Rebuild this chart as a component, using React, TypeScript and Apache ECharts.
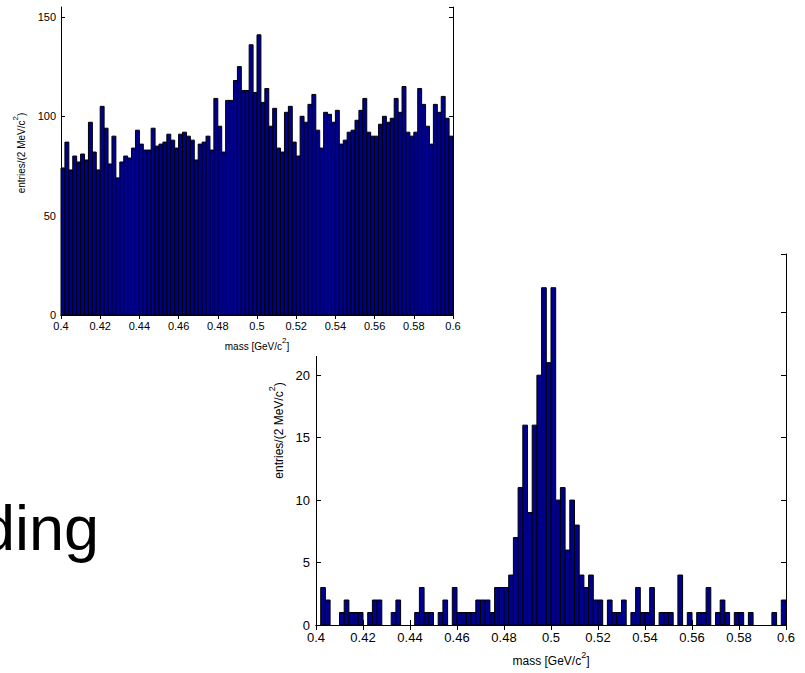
import React, { useEffect, useRef } from "react";
import * as echarts from "echarts";

// Histogram binning (2 MeV bins from 0.4 to 0.6 GeV)
const binLow = 0.4;
const binWidth = 0.002;

// Upper-left histogram: entries per bin (background-dominated sample)
const bgCounts = [
  74, 87, 73, 80, 77, 81, 78, 97, 82, 73,
  105, 94, 76, 90, 69, 77, 80, 79, 84, 93,
  86, 83, 83, 94, 85, 86, 87, 91, 88, 84,
  91, 92, 90, 88, 78, 86, 87, 90, 83, 109,
  95, 82, 108, 108, 118, 125, 113, 113, 136, 112,
  141, 107, 114, 95, 104, 84, 82, 102, 105, 87,
  80, 100, 97, 106, 111, 93, 84, 102, 101, 97,
  103, 86, 88, 92, 93, 98, 103, 109, 92, 90,
  90, 96, 100, 97, 99, 109, 102, 115, 92, 90,
  92, 114, 106, 95, 86, 106, 102, 110, 99, 90,
];

// Lower-right histogram: entries per bin (signal peak)
const sigCounts = [
  0, 3, 2, 0, 0, 1, 2, 1, 1, 1,
  0, 1, 2, 2, 0, 0, 1, 2, 0, 0,
  0, 1, 3, 1, 1, 0, 1, 2, 0, 3,
  1, 1, 1, 1, 2, 2, 2, 1, 3, 3,
  3, 4, 7, 11, 16, 9, 16, 20, 27, 21,
  27, 10, 11, 6, 10, 8, 4, 3, 4, 2,
  2, 0, 2, 1, 1, 2, 0, 1, 3, 1,
  1, 3, 0, 1, 1, 1, 0, 4, 0, 1,
  0, 1, 1, 3, 0, 1, 2, 1, 0, 1,
  1, 0, 1, 0, 0, 0, 0, 1, 0, 2,
];

// Axis titles, with the exponent written as a superscript token
const xName = "{b|mass [GeV/c}{s|2}{b|]}";
const yName = "{b|entries/(2 MeV/c}{s|2}{b|)}";
const slideText = "ding";

const FONT = '"Liberation Sans", Arial, Helvetica, sans-serif';
const BAR_FILL = "#00008F";

type HistCfg = {
  counts: number[];
  left: number;
  top: number;
  width: number;
  height: number;
  yMax: number;
  yInterval: number;
  labelSize: number;
  nameSize: number;
  tickLen: number;
  xNameGap: number;
  yNameGap: number;
  yNameShift: number;
  labelMargin: number;
};

function nameStyle(size: number, extra: any = {}) {
  const lh = Math.round(size * 1.45);
  const supSize = Math.round(size * 0.75);
  return {
    fontSize: size,
    color: "#000",
    fontFamily: FONT,
    lineHeight: lh,
    ...extra,
    rich: {
      b: { fontSize: size, fontFamily: FONT, color: "#000", lineHeight: lh, verticalAlign: "bottom" },
      s: { fontSize: supSize, fontFamily: FONT, color: "#000", lineHeight: supSize, verticalAlign: "top" },
    },
  };
}

function histOption(c: HistCfg): any {
  const data = c.counts.map((v, i) => [
    binLow + i * binWidth,
    binLow + (i + 1) * binWidth,
    v,
  ]);
  const line = { lineStyle: { color: "#000", width: 1 } };
  const tick = { inside: true, length: c.tickLen, lineStyle: { color: "#000", width: 1 } };
  const xFmt = (v: number) => String(+v.toFixed(2));
  const common = { splitLine: { show: false }, axisLine: { show: true, ...line }, axisTick: tick };
  return {
    animation: false,
    backgroundColor: "transparent",
    grid: { left: c.left, top: c.top, width: c.width, height: c.height, containLabel: false },
    xAxis: [
      {
        ...common,
        type: "value",
        position: "bottom",
        min: 0.4,
        max: 0.6,
        interval: 0.02,
        axisLabel: { fontSize: c.labelSize, color: "#000", fontFamily: FONT, margin: c.labelMargin, formatter: xFmt },
        name: xName,
        nameLocation: "middle",
        nameGap: c.xNameGap,
        nameTextStyle: nameStyle(c.nameSize),
      },
      {
        ...common,
        type: "value",
        position: "top",
        min: 0.4,
        max: 0.6,
        interval: 0.02,
        axisLabel: { show: false },
      },
    ],
    yAxis: [
      {
        ...common,
        type: "value",
        position: "left",
        min: 0,
        max: c.yMax,
        interval: c.yInterval,
        axisLabel: { fontSize: c.labelSize, color: "#000", fontFamily: FONT, margin: c.labelMargin, showMaxLabel: false },
        name: yName,
        nameLocation: "middle",
        nameRotate: 90,
        nameGap: c.yNameGap,
        nameTextStyle: nameStyle(c.nameSize, { padding: [0, 0, 0, c.yNameShift] }),
      },
      {
        ...common,
        type: "value",
        position: "right",
        min: 0,
        max: c.yMax,
        interval: c.yInterval,
        axisLabel: { show: false },
      },
    ],
    series: [
      {
        type: "custom",
        xAxisIndex: 0,
        yAxisIndex: 0,
        encode: { x: [0, 1], y: 2 },
        data,
        renderItem: (_params: any, api: any) => {
          const v = api.value(2);
          if (!v) return null;
          const p0 = api.coord([api.value(0), v]);
          const p1 = api.coord([api.value(1), 0]);
          return {
            type: "rect",
            shape: { x: p0[0], y: p0[1], width: p1[0] - p0[0], height: p1[1] - p0[1] },
            style: { fill: BAR_FILL, stroke: "#000", lineWidth: 1 },
          };
        },
      },
    ],
  };
}

export default function App() {
  const backRef = useRef<HTMLDivElement>(null);
  const frontRef = useRef<HTMLDivElement>(null);

  useEffect(() => {
    const back = echarts.init(backRef.current!, undefined, { renderer: "svg" });
    const front = echarts.init(frontRef.current!, undefined, { renderer: "svg" });

    const backOpt = histOption({
      counts: sigCounts,
      left: 316,
      top: 254,
      width: 470,
      height: 371,
      yMax: 29.7,
      yInterval: 5,
      labelSize: 13,
      nameSize: 12,
      tickLen: 5,
      xNameGap: 25,
      yNameGap: 25,
      yNameShift: 18,
      labelMargin: 6,
    });
    backOpt.graphic = [
      {
        type: "text",
        x: 99,
        y: 528,
        style: {
          text: slideText,
          fontSize: 63,
          fontFamily: FONT,
          fill: "#000",
          align: "right",
          verticalAlign: "middle",
        },
      },
    ];
    back.setOption(backOpt);

    front.setOption(
      histOption({
        counts: bgCounts,
        left: 61,
        top: 7,
        width: 392,
        height: 309,
        yMax: 155,
        yInterval: 50,
        labelSize: 11,
        nameSize: 10,
        tickLen: 4,
        xNameGap: 21,
        yNameGap: 28,
        yNameShift: 16,
        labelMargin: 5,
      })
    );

    return () => {
      back.dispose();
      front.dispose();
    };
  }, []);

  return (
    <div style={{ position: "fixed", left: 0, top: 0, width: 805, height: 673, background: "#fff" }}>
      <div ref={backRef} style={{ position: "absolute", left: 0, top: 0, width: 805, height: 673 }} />
      <div
        ref={frontRef}
        style={{ position: "absolute", left: 0, top: 0, width: 500, height: 356, background: "#fff" }}
      />
    </div>
  );
}
